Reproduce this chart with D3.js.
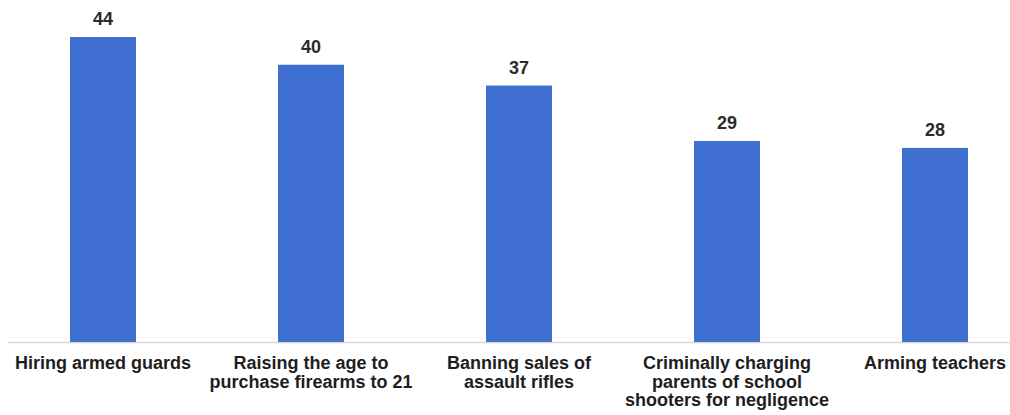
<!DOCTYPE html>
<html>
<head>
<meta charset="utf-8">
<script src="https://cdn.jsdelivr.net/npm/d3@7"></script>
<style>
  html, body { margin: 0; padding: 0; background: #fff; }
  svg { display: block; }
</style>
</head>
<body>
<svg id="chart" width="1010" height="415"></svg>
<script>
// Share of respondents (%) supporting each school-safety measure
const categories = [
  "Hiring armed guards",
  "Raising the age to purchase firearms to 21",
  "Banning sales of assault rifles",
  "Criminally charging parents of school shooters for negligence",
  "Arming teachers"
];
const labelLines = [
  ["Hiring armed guards"],
  ["Raising the age to", "purchase firearms to 21"],
  ["Banning sales of", "assault rifles"],
  ["Criminally charging", "parents of school", "shooters for negligence"],
  ["Arming teachers"]
];
const values = [44, 40, 37, 29, 28];

const svg = d3.select("#chart");
const baseline = 342;
const font = "'Liberation Sans', Arial, sans-serif";

const x = d3.scaleBand()
  .domain(categories)
  .range([-1, 1039])
  .paddingInner(0.683)
  .paddingOuter(0.3415);

const y = d3.scaleLinear()
  .domain([0, 44])
  .range([baseline, 37]);

// baseline axis
svg.append("line")
  .attr("x1", 8).attr("x2", 1010)
  .attr("y1", baseline + 0.5).attr("y2", baseline + 0.5)
  .attr("stroke", "#d9d9d9").attr("stroke-width", 1.5);

// bars
svg.selectAll("rect.bar")
  .data(values)
  .join("rect")
  .attr("class", "bar")
  .attr("x", (d, i) => x(categories[i]))
  .attr("width", x.bandwidth())
  .attr("y", d => y(d))
  .attr("height", d => baseline - y(d))
  .attr("fill", "#3f6fd1");

// value labels
svg.selectAll("text.val")
  .data(values)
  .join("text")
  .attr("class", "val")
  .attr("x", (d, i) => x(categories[i]) + x.bandwidth() / 2)
  .attr("y", d => y(d) - 12)
  .attr("text-anchor", "middle")
  .attr("font-family", font)
  .attr("font-weight", "bold")
  .attr("font-size", 18)
  .attr("fill", "#2b2b2b")
  .text(d => d);

// category labels
const cat = svg.selectAll("text.cat")
  .data(labelLines)
  .join("text")
  .attr("class", "cat")
  .attr("x", (d, i) => x(categories[i]) + x.bandwidth() / 2)
  .attr("y", 369)
  .attr("text-anchor", "middle")
  .attr("font-family", font)
  .attr("font-weight", "bold")
  .attr("font-size", 18)
  .attr("fill", "#1e1e1e");

cat.selectAll("tspan")
  .data(d => d)
  .join("tspan")
  .attr("x", function () { return d3.select(this.parentNode).attr("x"); })
  .attr("dy", (d, j) => j === 0 ? 0 : 18.5)
  .text(d => d);
</script>
</body>
</html>
